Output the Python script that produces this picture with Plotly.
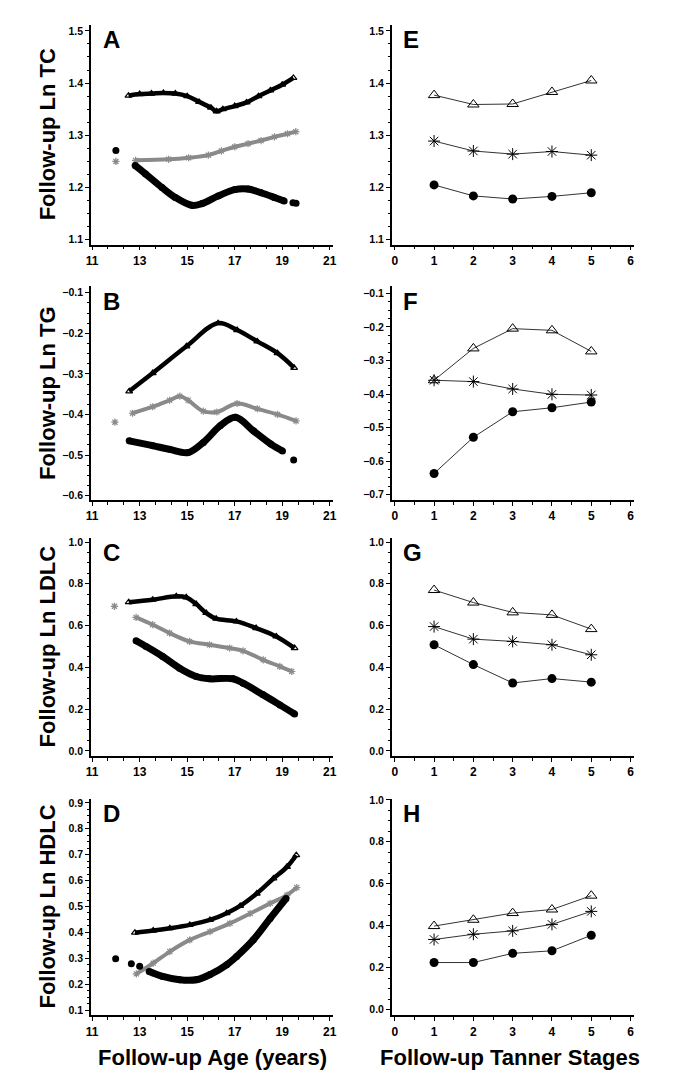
import plotly.graph_objects as go

# ---------------- data ----------------
# Panel A: Ln TC vs age
A_tri_age = [12.53, 13.0, 13.5, 14.0, 14.5, 15.0, 15.5, 16.0, 16.24, 16.5, 17.0, 17.5, 18.0, 18.5, 19.0, 19.47]
A_tri_val = [1.376, 1.379, 1.380, 1.381, 1.380, 1.375, 1.364, 1.353, 1.346, 1.350, 1.356, 1.363, 1.375, 1.386, 1.397, 1.410]
A_star_age = [12.83, 14.22, 15.06, 15.89, 16.44, 17.0, 17.56, 18.11, 18.67, 19.22, 19.57]
A_star_val = [1.252, 1.254, 1.257, 1.262, 1.270, 1.278, 1.284, 1.290, 1.297, 1.303, 1.307]
A_star_iso_age = [12.0]
A_star_iso_val = [1.250]
A_cir_age = [12.81, 13.25, 13.94, 14.5, 15.19, 15.61, 16.31, 17.0, 17.56, 18.11, 18.67, 19.08]
A_cir_val = [1.242, 1.226, 1.200, 1.181, 1.166, 1.169, 1.184, 1.196, 1.197, 1.190, 1.181, 1.174]
A_cir_iso_age = [12.0, 19.45, 19.58]
A_cir_iso_val = [1.271, 1.171, 1.170]

# Panel B: Ln TG vs age
B_tri_age = [12.56, 13.55, 14.97, 16.3, 17.1, 17.95, 18.8, 19.5]
B_tri_val = [-0.343, -0.298, -0.232, -0.175, -0.192, -0.220, -0.249, -0.285]
B_star_age = [12.7, 13.55, 14.26, 14.69, 15.04, 15.68, 16.25, 17.1, 17.95, 18.8, 19.58]
B_star_val = [-0.397, -0.381, -0.365, -0.355, -0.365, -0.392, -0.394, -0.373, -0.386, -0.400, -0.416]
B_star_iso_age = [11.96]
B_star_iso_val = [-0.419]
B_cir_age = [12.56, 13.55, 14.26, 15.04, 15.68, 16.39, 17.03, 17.8, 18.52, 19.01]
B_cir_val = [-0.465, -0.477, -0.486, -0.494, -0.469, -0.428, -0.407, -0.441, -0.473, -0.490]
B_cir_iso_age = [19.48]
B_cir_iso_val = [-0.512]

# Panel C: Ln LDLC vs age
C_tri_age = [12.54, 13.55, 14.54, 14.96, 15.38, 15.8, 16.22, 17.07, 17.9, 18.75, 19.52]
C_tri_val = [0.712, 0.724, 0.740, 0.735, 0.703, 0.660, 0.633, 0.620, 0.588, 0.548, 0.492]
C_star_age = [12.85, 13.55, 14.26, 15.1, 15.94, 16.79, 17.35, 18.2, 18.9, 19.4]
C_star_val = [0.639, 0.604, 0.564, 0.524, 0.508, 0.492, 0.479, 0.436, 0.404, 0.380]
C_star_iso_age = [11.94]
C_star_iso_val = [0.692]
C_cir_age = [12.85, 13.27, 13.97, 14.68, 15.38, 15.94, 16.93, 17.35, 18.2, 18.9, 19.52]
C_cir_val = [0.527, 0.500, 0.452, 0.396, 0.356, 0.345, 0.345, 0.324, 0.268, 0.220, 0.176]
C_cir_iso_age = []
C_cir_iso_val = []

# Panel D: Ln HDLC vs age
D_tri_age = [12.8, 13.57, 14.27, 15.11, 15.96, 16.66, 17.23, 17.93, 18.63, 19.2, 19.59]
D_tri_val = [0.399, 0.407, 0.416, 0.429, 0.448, 0.474, 0.502, 0.550, 0.608, 0.653, 0.698]
D_star_age = [12.86, 13.57, 14.27, 15.11, 15.96, 16.8, 17.65, 18.49, 19.2, 19.61]
D_star_val = [0.240, 0.281, 0.326, 0.371, 0.403, 0.435, 0.473, 0.512, 0.544, 0.573]
D_star_iso_age = []
D_star_iso_val = []
D_cir_age = [13.4, 13.97, 14.68, 15.38, 15.96, 16.66, 17.08, 17.78, 18.49, 19.16]
D_cir_val = [0.249, 0.230, 0.217, 0.217, 0.237, 0.275, 0.307, 0.371, 0.454, 0.531]
D_cir_iso_age = [11.99, 12.65, 13.0]
D_cir_iso_val = [0.298, 0.279, 0.269]

# Right panels: Tanner stages
stages = [1, 2, 3, 4, 5]
E_tri = [1.377, 1.359, 1.360, 1.383, 1.405]
E_star = [1.289, 1.270, 1.264, 1.269, 1.262]
E_cir = [1.205, 1.184, 1.178, 1.183, 1.190]
F_tri = [-0.359, -0.264, -0.205, -0.210, -0.273]
F_star = [-0.359, -0.363, -0.385, -0.401, -0.403]
F_cir = [-0.637, -0.529, -0.453, -0.441, -0.424]
G_tri = [0.770, 0.710, 0.663, 0.651, 0.583]
G_star = [0.595, 0.535, 0.524, 0.508, 0.460]
G_cir = [0.508, 0.413, 0.325, 0.346, 0.329]
H_tri = [0.398, 0.428, 0.460, 0.477, 0.543]
H_star = [0.334, 0.359, 0.375, 0.406, 0.468]
H_cir = [0.224, 0.224, 0.268, 0.280, 0.354]

left_titles = ["Follow-up Ln TC", "Follow-up Ln TG", "Follow-up Ln LDLC", "Follow-up Ln HDLC"]
left_letters = ["A", "B", "C", "D"]
right_letters = ["E", "F", "G", "H"]
x_title_left = "Follow-up Age (years)"
x_title_right = "Follow-up Tanner Stages"

# ---------------- layout geometry ----------------
OFF = 8  # page body margin of the browser
W, H = 675 - OFF, 1084 - OFF
FONT = "Liberation Sans, Arial, sans-serif"


def fx(p):
    return (p - OFF) / W


def fy(p):
    return 1 - (p - OFF) / H


def px_x(a, b):
    return [fx(a), fx(b)]


def px_y(top, bot):
    return [fy(bot), fy(top)]


rows_px = [(20, 241), (283, 498), (536, 755), (798, 1016)]
left_x_dom = px_x(87, 332)
right_x_dom = px_x(392, 638)

left_yr = [[1.0905, 1.5114], [-0.6115, -0.0846], [-0.024, 1.019], [0.0797, 0.9165]]
right_yr = [[1.0905, 1.5114], [-0.717, -0.0792], [-0.024, 1.019], [-0.028, 1.006]]
left_dt = [0.1, 0.1, 0.2, 0.1]
right_dt = [0.1, 0.1, 0.2, 0.2]

fig = go.Figure()
BLACK = "#000000"
GRAY = "#8a8a8a"

left_data = [
    (A_tri_age, A_tri_val, A_star_age, A_star_val, A_star_iso_age, A_star_iso_val, A_cir_age, A_cir_val, A_cir_iso_age, A_cir_iso_val),
    (B_tri_age, B_tri_val, B_star_age, B_star_val, B_star_iso_age, B_star_iso_val, B_cir_age, B_cir_val, B_cir_iso_age, B_cir_iso_val),
    (C_tri_age, C_tri_val, C_star_age, C_star_val, C_star_iso_age, C_star_iso_val, C_cir_age, C_cir_val, C_cir_iso_age, C_cir_iso_val),
    (D_tri_age, D_tri_val, D_star_age, D_star_val, D_star_iso_age, D_star_iso_val, D_cir_age, D_cir_val, D_cir_iso_age, D_cir_iso_val),
]
right_data = [(E_tri, E_star, E_cir), (F_tri, F_star, F_cir), (G_tri, G_star, G_cir), (H_tri, H_star, H_cir)]

annotations = []
for i in range(4):
    li = 2 * i + 1
    ri = 2 * i + 2
    xl = "x" if li == 1 else f"x{li}"
    yl = "y" if li == 1 else f"y{li}"
    xr, yr = f"x{ri}", f"y{ri}"
    (ta, tv, sa, sv, sia, siv, ca, cv, cia, civ) = left_data[i]
    # triangle band
    fig.add_trace(go.Scatter(x=ta, y=tv, xaxis=xl, yaxis=yl, mode="lines+markers",
                             line=dict(color=BLACK, width=4.5, shape="spline"),
                             marker=dict(symbol="triangle-up-open", size=6, color=BLACK, line=dict(width=1.2)),
                             showlegend=False))
    # star band (gray)
    fig.add_trace(go.Scatter(x=sa, y=sv, xaxis=xl, yaxis=yl, mode="lines+markers",
                             line=dict(color=GRAY, width=4, shape="spline"),
                             marker=dict(symbol="asterisk-open", size=6, color=GRAY, line=dict(width=1.2, color=GRAY)),
                             showlegend=False))
    if sia:
        fig.add_trace(go.Scatter(x=sia, y=siv, xaxis=xl, yaxis=yl, mode="markers",
                                 marker=dict(symbol="asterisk-open", size=6, color=GRAY, line=dict(width=1.3, color=GRAY)),
                                 showlegend=False))
    # circle band
    fig.add_trace(go.Scatter(x=ca, y=cv, xaxis=xl, yaxis=yl, mode="lines+markers",
                             line=dict(color=BLACK, width=7, shape="spline"),
                             marker=dict(symbol="circle", size=7, color=BLACK),
                             showlegend=False))
    if cia:
        fig.add_trace(go.Scatter(x=cia, y=civ, xaxis=xl, yaxis=yl, mode="markers",
                                 marker=dict(symbol="circle", size=7, color=BLACK),
                                 showlegend=False))
    # right panel
    rt, rs, rc = right_data[i]
    fig.add_trace(go.Scatter(x=stages, y=rt, xaxis=xr, yaxis=yr, mode="lines+markers",
                             line=dict(color="#333333", width=1),
                             marker=dict(symbol="triangle-up-open", size=10, color=BLACK, line=dict(width=1)),
                             showlegend=False))
    fig.add_trace(go.Scatter(x=stages, y=rs, xaxis=xr, yaxis=yr, mode="lines+markers",
                             line=dict(color="#333333", width=1),
                             marker=dict(symbol="asterisk-open", size=10, color=BLACK, line=dict(width=1, color=BLACK)),
                             showlegend=False))
    fig.add_trace(go.Scatter(x=stages, y=rc, xaxis=xr, yaxis=yr, mode="lines+markers",
                             line=dict(color="#333333", width=1),
                             marker=dict(symbol="circle", size=9, color=BLACK),
                             showlegend=False))

    top, bot = rows_px[i]
    common = dict(showline=True, linecolor=BLACK, linewidth=1.5, ticks="outside", ticklen=4,
                  tickwidth=1.2, tickcolor=BLACK, showgrid=False, zeroline=False, mirror=False)
    xfont = dict(family=FONT, size=12, color=BLACK, weight="bold")
    yfont = dict(family=FONT, size=10.5, color=BLACK, weight="bold")
    lk = "xaxis" if li == 1 else f"xaxis{li}"
    lyk = "yaxis" if li == 1 else f"yaxis{li}"
    fig.layout[lk] = dict(domain=left_x_dom, anchor=yl, range=[10.95, 21.12], tickvals=[11, 13, 15, 17, 19, 21],
                          minor=dict(tickvals=[11 + k * 2 / 3 for k in range(16)], ticklen=3, tickwidth=1, ticks="outside", tickcolor=BLACK),
                          tickfont=xfont, **common)
    fig.layout[lyk] = dict(domain=px_y(top, bot), anchor=xl, range=left_yr[i], dtick=left_dt[i], tick0=0,
                           tickformat=".1f", minor=dict(dtick=left_dt[i] / 4, ticklen=2.5, tickwidth=1, ticks="outside", tickcolor=BLACK),
                           tickfont=yfont, **common)
    fig.layout[f"xaxis{ri}"] = dict(domain=right_x_dom, anchor=yr, range=[-0.075, 6.1], dtick=1, tick0=0,
                                    minor=dict(dtick=0.5, ticklen=3, tickwidth=1, ticks="outside", tickcolor=BLACK),
                                    tickfont=xfont, **common)
    fig.layout[f"yaxis{ri}"] = dict(domain=px_y(top, bot), anchor=xr, range=right_yr[i], dtick=right_dt[i], tick0=0,
                                    tickformat=".1f", minor=dict(dtick=right_dt[i] / 4, ticklen=2.5, tickwidth=1, ticks="outside", tickcolor=BLACK),
                                    tickfont=yfont, **common)

    # panel letters
    annotations.append(dict(text=left_letters[i], x=fx(97), y=fy(top + 15), xref="paper", yref="paper",
                            xanchor="left", yanchor="middle", showarrow=False,
                            font=dict(family=FONT, size=24, color=BLACK, weight="bold")))
    annotations.append(dict(text=right_letters[i], x=fx(401), y=fy(top + 15), xref="paper", yref="paper",
                            xanchor="left", yanchor="middle", showarrow=False,
                            font=dict(family=FONT, size=24, color=BLACK, weight="bold")))
    # y titles
    annotations.append(dict(text=left_titles[i], x=fx(43), y=fy((top + bot) / 2), xref="paper", yref="paper",
                            xanchor="center", yanchor="middle", textangle=-90, showarrow=False,
                            font=dict(family=FONT, size=22, color=BLACK, weight="bold")))

annotations.append(dict(text=x_title_left, x=fx(210), y=fy(1058), xref="paper", yref="paper",
                        xanchor="center", yanchor="middle", showarrow=False,
                        font=dict(family=FONT, size=22, color=BLACK, weight="bold")))
annotations.append(dict(text=x_title_right, x=fx(512), y=fy(1058), xref="paper", yref="paper",
                        xanchor="center", yanchor="middle", showarrow=False,
                        font=dict(family=FONT, size=22, color=BLACK, weight="bold")))

fig.update_layout(width=W, height=H, margin=dict(l=0, r=0, t=0, b=0),
                  paper_bgcolor="white", plot_bgcolor="white", annotations=annotations,
                  showlegend=False)

fig.write_html("out.html")
